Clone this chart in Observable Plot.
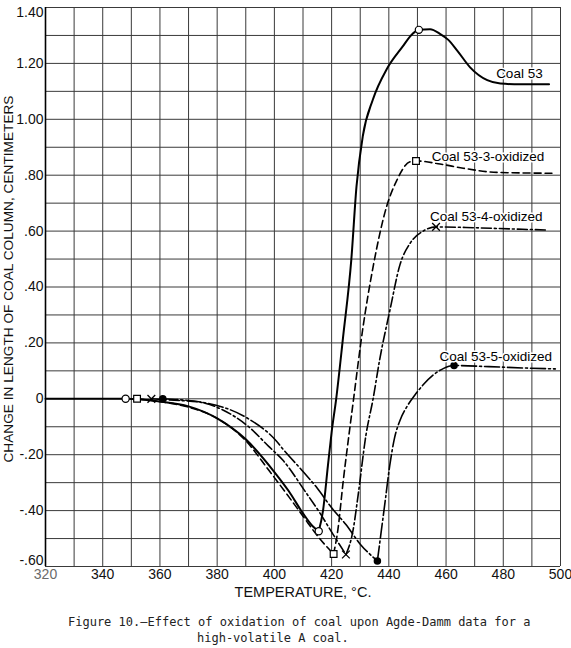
<!DOCTYPE html>
<html><head><meta charset="utf-8">
<script src="https://cdn.jsdelivr.net/npm/d3@7"></script>
<script src="https://cdn.jsdelivr.net/npm/@observablehq/plot@0.6"></script>
<style>
body{margin:0;background:#fff;}
#chart svg{display:block;}
#caption{font-family:"DejaVu Sans Mono","Liberation Mono",monospace;font-size:12px;color:#222;position:relative;height:36px;width:571px;}
#caption div{position:absolute;white-space:pre;}
</style></head><body>
<div id="chart"></div>
<div id="caption"><div style="left:68px;top:3px">Figure 10.—Effect of oxidation of coal upon Agde-Damm data for a</div><div style="left:197px;top:19px">high-volatile A coal.</div></div>
<script>
// ---- data (temperature °C, change in length cm) ----
const seriesNames = ["Coal 53", "Coal 53-3-oxidized", "Coal 53-4-oxidized", "Coal 53-5-oxidized"];

const coal53FallT = [320, 348, 360, 370, 380, 390, 400, 405, 410, 413.4, 415.5];
const coal53FallV = [0, 0, -0.01, -0.027, -0.07, -0.145, -0.262, -0.33, -0.41, -0.456, -0.474];
const coal53RiseT = [415.5, 417, 418.7, 420, 421.6, 424, 426.9, 428.7, 430.9, 434.4, 439.3, 444.6, 448.4, 450.5, 454.4, 458, 460.7, 463.9, 468.4, 474.4, 479, 486, 496];
const coal53RiseV = [-0.474, -0.4, -0.24, -0.12, 0, 0.22, 0.5, 0.76, 0.94, 1.07, 1.18, 1.257, 1.307, 1.32, 1.322, 1.305, 1.285, 1.246, 1.186, 1.14, 1.128, 1.125, 1.125];

const coal533FallT = [352, 360, 370, 380, 390, 398, 405, 410, 415.8, 420.7];
const coal533FallV = [0, -0.01, -0.03, -0.07, -0.15, -0.255, -0.35, -0.42, -0.5, -0.555];
const coal533RiseT = [420.7, 422.2, 424, 426.3, 427.5, 431, 434.5, 439.2, 442.7, 447.4, 449.5, 457.9, 466, 477.9, 497];
const coal533RiseV = [-0.555, -0.468, -0.3, -0.11, -0.015, 0.258, 0.472, 0.687, 0.78, 0.848, 0.851, 0.84, 0.825, 0.81, 0.807];

const coal534FallT = [357, 365, 374, 382, 391, 398, 403, 411, 416, 420.5, 425];
const coal534FallV = [0, -0.005, -0.012, -0.04, -0.1, -0.17, -0.22, -0.335, -0.41, -0.485, -0.557];
const coal534RiseT = [425, 427.5, 429.2, 432, 434.5, 436.8, 440.4, 443.9, 447.4, 452, 456.5, 470, 485, 495.3];
const coal534RiseV = [-0.557, -0.47, -0.35, -0.13, 0, 0.14, 0.318, 0.48, 0.556, 0.6, 0.615, 0.612, 0.607, 0.604];

const coal535FallT = [361, 376, 391, 400.6, 403, 410, 415, 420, 425, 430, 436];
const coal535FallV = [0, -0.015, -0.072, -0.15, -0.18, -0.26, -0.32, -0.39, -0.45, -0.52, -0.58];
const coal535RiseT = [436, 437.4, 438.8, 440.3, 442, 444, 446.5, 449, 452, 455.5, 459, 462.8, 475, 488, 498.2];
const coal535RiseV = [-0.58, -0.47, -0.36, -0.24, -0.14, -0.075, -0.025, 0.012, 0.05, 0.085, 0.108, 0.119, 0.115, 0.11, 0.107];

// plotted points (markers)
const markerT53 = [348, 415.5, 450.5];
const markerV53 = [0, -0.474, 1.32];
const markerT533 = [352, 420.7, 449.5];
const markerV533 = [0, -0.555, 0.851];
const markerT534 = [357, 425, 456.5];
const markerV534 = [0, -0.557, 0.615];
const markerT535 = [361, 436, 462.8];
const markerV535 = [0, -0.58, 0.119];

// series label anchors (data coordinates)
const labelT = [477.5, 455, 454.4, 457.7];
const labelV = [1.164, 0.865, 0.651, 0.151];

// ticks
const xTicks = [320, 340, 360, 380, 400, 420, 440, 460, 480, 500];
const xTickLabels = ["320", "340", "360", "380", "400", "420", "440", "460", "480", "500"];
const yTicks = [-0.6, -0.4, -0.2, 0, 0.2, 0.4, 0.6, 0.8, 1.0, 1.2, 1.4];
const yTickLabels = ["-.60", "-.40", "-.20", "0", ".20", ".40", ".60", ".80", "1.00", "1.20", "1.40"];
const xGrid = [320, 330, 340, 350, 360, 370, 380, 390, 400, 410, 420, 430, 440, 450, 460, 470, 480, 490, 500];
const yGrid = [-0.6, -0.5, -0.4, -0.3, -0.2, -0.1, 0, 0.1, 0.2, 0.3, 0.4, 0.5, 0.6, 0.7, 0.8, 0.9, 1.0, 1.1, 1.2, 1.3, 1.4];

const xLabel = "TEMPERATURE, °C.";
const yLabel = "CHANGE IN LENGTH OF COAL COLUMN, CENTIMETERS";

// ---- build tables ----
function seg(name, part, T, V) { return T.map((t, i) => ({series: name, seg: name + part, T: t, V: V[i]})); }
const lines = [
  [seg(seriesNames[0], "a", coal53FallT, coal53FallV), seg(seriesNames[0], "b", coal53RiseT, coal53RiseV)],
  [seg(seriesNames[1], "a", coal533FallT, coal533FallV), seg(seriesNames[1], "b", coal533RiseT, coal533RiseV)],
  [seg(seriesNames[2], "a", coal534FallT, coal534FallV), seg(seriesNames[2], "b", coal534RiseT, coal534RiseV)],
  [seg(seriesNames[3], "a", coal535FallT, coal535FallV), seg(seriesNames[3], "b", coal535RiseT, coal535RiseV)]
].map(p => p.flat());
const mk = (T, V) => T.map((t, i) => ({T: t, V: V[i]}));
const labels = seriesNames.map((n, i) => ({name: n, T: labelT[i], V: labelV[i]}));

const dashes = [null, "7,4", "10,3,2,3", "15,3,2,3"];
const widths = [2, 1.6, 1.6, 1.6];

const fmtY = d => yTickLabels[yTicks.findIndex(t => Math.abs(t - d) < 1e-9)];
const fmtX = d => xTickLabels[xTicks.indexOf(d)];

const chart = Plot.plot({
  width: 571,
  height: 612,
  marginLeft: 45,
  marginTop: 7,
  marginRight: 11,
  marginBottom: 46,
  style: {fontFamily: "'Liberation Sans', Arial, sans-serif", background: "#fff", color: "#111"},
  x: {domain: [320, 500]},
  y: {domain: [-0.6, 1.4]},
  marks: [
    Plot.ruleX(xGrid, {stroke: "#3a3a3a", strokeWidth: 1}),
    Plot.ruleY(yGrid, {stroke: "#3a3a3a", strokeWidth: 1}),
    Plot.ruleX([320], {stroke: "#000", strokeWidth: 1.6}),
    Plot.axisX({ticks: xTicks, tickFormat: fmtX, tickSize: 0, tickPadding: 3, fontSize: 14, label: null}),
    Plot.axisY({ticks: yTicks, tickFormat: fmtY, tickSize: 0, tickPadding: 2, fontSize: 14, label: null}),
    ...lines.map((data, i) => Plot.line(data, {x: "T", y: "V", z: "seg", curve: "monotone-x", stroke: "#000", strokeWidth: widths[i], strokeDasharray: dashes[i]})),
    Plot.dot(mk(markerT53, markerV53), {x: "T", y: "V", r: 3.6, fill: "#fff", stroke: "#000", strokeWidth: 1.2}),
    Plot.dot(mk(markerT533, markerV533), {x: "T", y: "V", r: 3.8, symbol: "square", fill: "#fff", stroke: "#000", strokeWidth: 1.2}),
    Plot.dot(mk(markerT534, markerV534), {x: "T", y: "V", r: 3.6, symbol: "times", stroke: "#000", strokeWidth: 1.3}),
    Plot.dot(mk(markerT535, markerV535), {x: "T", y: "V", r: 3, fill: "#000", stroke: "#000"}),
    Plot.text(labels, {x: "T", y: "V", text: "name", textAnchor: "start", fontSize: 13.5, fill: "#000", stroke: "#fff", strokeWidth: 3, paintOrder: "stroke"}),
    Plot.text([xLabel], {frameAnchor: "bottom", dy: 26, fontSize: 14.5, fill: "#111", lineAnchor: "middle"}),
    Plot.text([yLabel], {frameAnchor: "left", dx: -37, dy: -8, rotate: -90, fontSize: 13.5, fill: "#111", lineAnchor: "middle"})
  ]
});
document.getElementById("chart").appendChild(chart);
const svgText = d3.select(chart).selectAll("text");
svgText.filter(function () { return this.textContent === yLabel; })
  .attr("text-anchor", "start").attr("x", -183.5)
  .attr("textLength", 367).attr("lengthAdjust", "spacingAndGlyphs");
svgText.filter(function () { return this.textContent === yTickLabels[0]; }).attr("dy", "-0.45em");
svgText.filter(function () { return this.textContent === yTickLabels[yTickLabels.length - 1]; }).attr("dy", "0.35em");
svgText.filter(function () { return this.textContent === xTickLabels[0]; }).attr("fill", "#6a6a6a");
</script>
</body></html>
